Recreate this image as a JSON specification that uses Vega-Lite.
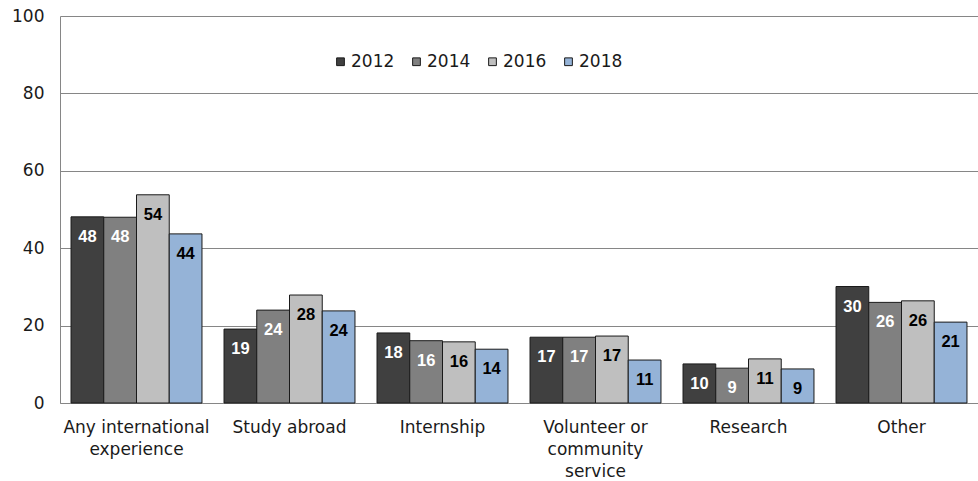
{
  "$schema": "https://vega.github.io/schema/vega-lite/v6.json",
  "width": 918,
  "height": 387,
  "autosize": {"type": "none"},
  "padding": {"left": 60, "top": 16, "right": 0, "bottom": 78},
  "background": "white",
  "config": {"view": {"stroke": null}, "font": "DejaVu Sans"},
  "data": {
    "values": [
      {"category": "Any international experience", "year": "2012", "value": 48.1},
      {"category": "Any international experience", "year": "2014", "value": 48.0},
      {"category": "Any international experience", "year": "2016", "value": 53.8},
      {"category": "Any international experience", "year": "2018", "value": 43.7},
      {"category": "Study abroad", "year": "2012", "value": 19.1},
      {"category": "Study abroad", "year": "2014", "value": 24.0},
      {"category": "Study abroad", "year": "2016", "value": 27.9},
      {"category": "Study abroad", "year": "2018", "value": 23.8},
      {"category": "Internship", "year": "2012", "value": 18.1},
      {"category": "Internship", "year": "2014", "value": 16.1},
      {"category": "Internship", "year": "2016", "value": 15.8},
      {"category": "Internship", "year": "2018", "value": 13.9},
      {"category": "Volunteer or community service", "year": "2012", "value": 17.0},
      {"category": "Volunteer or community service", "year": "2014", "value": 17.0},
      {"category": "Volunteer or community service", "year": "2016", "value": 17.3},
      {"category": "Volunteer or community service", "year": "2018", "value": 11.1},
      {"category": "Research", "year": "2012", "value": 10.1},
      {"category": "Research", "year": "2014", "value": 9.0},
      {"category": "Research", "year": "2016", "value": 11.4},
      {"category": "Research", "year": "2018", "value": 8.8},
      {"category": "Other", "year": "2012", "value": 30.1},
      {"category": "Other", "year": "2014", "value": 26.0},
      {"category": "Other", "year": "2016", "value": 26.4},
      {"category": "Other", "year": "2018", "value": 20.9}
    ]
  },
  "encoding": {
    "x": {
      "field": "category",
      "type": "nominal",
      "sort": ["Any international experience", "Study abroad", "Internship", "Volunteer or community service", "Research", "Other"],
      "scale": {"paddingInner": 0.144, "paddingOuter": 0.072},
      "axis": {
        "title": null,
        "labelAngle": 0,
        "ticks": false,
        "domainColor": "#868686",
        "labelFont": "DejaVu Sans",
        "labelFontSize": 17,
        "labelColor": "#1a1a1a",
        "labelPadding": 16,
        "labelLineHeight": 22,
        "labelLimit": 0,
        "labelExpr": "datum.value == 'Any international experience' ? ['Any international', 'experience'] : datum.value == 'Volunteer or community service' ? ['Volunteer or', 'community', 'service'] : datum.value"
      }
    },
    "xOffset": {"field": "year", "type": "nominal", "sort": ["2012", "2014", "2016", "2018"]},
    "y": {
      "field": "value",
      "type": "quantitative",
      "scale": {"domain": [0, 100]},
      "axis": {
        "title": null,
        "values": [0, 20, 40, 60, 80, 100],
        "ticks": false,
        "domainColor": "#868686",
        "gridColor": "#868686",
        "labelFont": "DejaVu Sans",
        "labelFontSize": 17,
        "labelColor": "#1a1a1a",
        "labelPadding": 16
      }
    }
  },
  "layer": [
    {
      "mark": {"type": "bar", "stroke": "#1a1a1a", "strokeWidth": 1},
      "encoding": {
        "color": {
          "field": "year",
          "type": "nominal",
          "scale": {"domain": ["2012", "2014", "2016", "2018"], "range": ["#404040", "#808080", "#bfbfbf", "#95b3d7"]},
          "legend": {
            "title": null,
            "orient": "none",
            "direction": "horizontal",
            "legendX": 272,
            "legendY": 37,
            "symbolType": "square",
            "symbolSize": 60,
            "symbolStrokeColor": "#1a1a1a",
            "symbolStrokeWidth": 1,
            "labelFont": "DejaVu Sans",
            "labelFontSize": 17,
            "labelColor": "#1a1a1a",
            "labelOffset": 2,
            "columnPadding": 13
          }
        }
      }
    },
    {
      "mark": {"type": "text", "baseline": "middle", "dy": 20, "font": "Liberation Sans", "fontWeight": "bold", "fontSize": 16.5},
      "encoding": {
        "text": {"field": "value", "type": "quantitative", "format": ".0f"},
        "color": {"condition": {"test": "datum.year == '2012' || datum.year == '2014'", "value": "white"}, "value": "black"}
      }
    }
  ]
}
